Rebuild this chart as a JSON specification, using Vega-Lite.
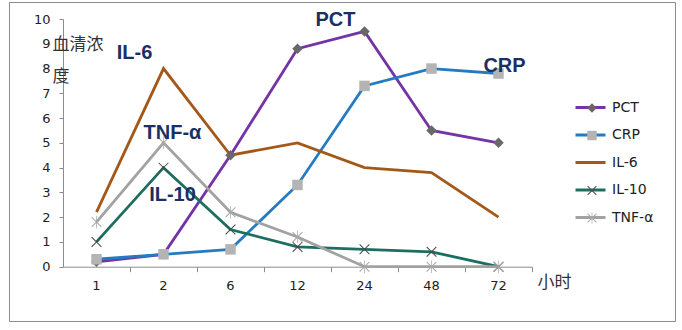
{
  "$schema": "https://vega.github.io/schema/vega-lite/v6.json",
  "width": 666,
  "height": 319,
  "autosize": {"type": "none"},
  "padding": {"left": 9, "top": 2, "right": 7, "bottom": 9},
  "background": "white",
  "config": {"view": {"stroke": "#8c8c8c", "strokeWidth": 1}, "font": "DejaVu Sans", "axis": {"labelOverlap": false}},
  "datasets": {
    "series": [
      {"hour": "1", "series": "PCT", "value": 0.2},
      {"hour": "2", "series": "PCT", "value": 0.5},
      {"hour": "6", "series": "PCT", "value": 4.5},
      {"hour": "12", "series": "PCT", "value": 8.8},
      {"hour": "24", "series": "PCT", "value": 9.5},
      {"hour": "48", "series": "PCT", "value": 5.5},
      {"hour": "72", "series": "PCT", "value": 5.0},
      {"hour": "1", "series": "CRP", "value": 0.3},
      {"hour": "2", "series": "CRP", "value": 0.5},
      {"hour": "6", "series": "CRP", "value": 0.7},
      {"hour": "12", "series": "CRP", "value": 3.3},
      {"hour": "24", "series": "CRP", "value": 7.3},
      {"hour": "48", "series": "CRP", "value": 8.0},
      {"hour": "72", "series": "CRP", "value": 7.8},
      {"hour": "1", "series": "IL-6", "value": 2.2},
      {"hour": "2", "series": "IL-6", "value": 8.0},
      {"hour": "6", "series": "IL-6", "value": 4.5},
      {"hour": "12", "series": "IL-6", "value": 5.0},
      {"hour": "24", "series": "IL-6", "value": 4.0},
      {"hour": "48", "series": "IL-6", "value": 3.8},
      {"hour": "72", "series": "IL-6", "value": 2.0},
      {"hour": "1", "series": "IL-10", "value": 1.0},
      {"hour": "2", "series": "IL-10", "value": 4.0},
      {"hour": "6", "series": "IL-10", "value": 1.5},
      {"hour": "12", "series": "IL-10", "value": 0.8},
      {"hour": "24", "series": "IL-10", "value": 0.7},
      {"hour": "48", "series": "IL-10", "value": 0.6},
      {"hour": "72", "series": "IL-10", "value": 0.0},
      {"hour": "1", "series": "TNF-α", "value": 1.8},
      {"hour": "2", "series": "TNF-α", "value": 5.0},
      {"hour": "6", "series": "TNF-α", "value": 2.2},
      {"hour": "12", "series": "TNF-α", "value": 1.2},
      {"hour": "24", "series": "TNF-α", "value": 0.0},
      {"hour": "48", "series": "TNF-α", "value": 0.0},
      {"hour": "72", "series": "TNF-α", "value": 0.0}
    ],
    "notes": [
      {"hour": "12", "label": "PCT", "value": 9.96},
      {"hour": "1", "label": "IL-6", "value": 8.63},
      {"hour": "2", "label": "TNF-α", "value": 5.4},
      {"hour": "2", "label": "IL-10", "value": 2.89},
      {"hour": "72", "label": "CRP", "value": 8.1}
    ]
  },
  "resolve": {"axis": {"x": "independent"}},
  "layer": [
    {
      "data": {"name": "series"},
      "mark": {"type": "line", "strokeWidth": 2.8},
      "encoding": {
        "x": {
          "field": "hour", "type": "ordinal",
          "scale": {"type": "band", "domain": ["1", "2", "6", "12", "24", "48", "72"], "range": [54, 523], "paddingInner": 0, "paddingOuter": 0},
          "axis": {"orient": "bottom", "offset": -54.3, "title": "小时", "titleAngle": 0, "titleAlign": "left", "titleBaseline": "middle", "titleX": 528, "titleY": 15.3, "titleFont": "Noto Sans CJK SC", "titleFontSize": 17, "titleFontWeight": "normal", "titleColor": "#333333", "labelAngle": 0, "labelFont": "DejaVu Sans", "labelFontSize": 13, "labelColor": "#222222", "labelPadding": 13, "ticks": false, "tickSize": 0, "domain": true, "domainColor": "#8c8c8c", "domainWidth": 1, "grid": false}
        },
        "y": {
          "field": "value", "type": "quantitative",
          "scale": {"domain": [0, 10], "range": [264.7, 17], "nice": false, "zero": true},
          "axis": {"offset": -54, "title": ["血清浓", "度"], "titleAngle": 0, "titleAlign": "left", "titleBaseline": "top", "titleX": -11, "titleY": 34, "titleLineHeight": 32, "titleFont": "Noto Sans CJK SC", "titleFontSize": 17, "titleFontWeight": "normal", "titleColor": "#333333", "labelFont": "DejaVu Sans", "labelFontSize": 13, "labelColor": "#222222", "labelPadding": 9, "labelOverlap": false, "tickCount": 11, "tickSize": 4, "tickColor": "#8c8c8c", "domainColor": "#8c8c8c", "grid": false, "values": [0, 1, 2, 3, 4, 5, 6, 7, 8, 9, 10]}
        },
        "stroke": {
          "field": "series", "type": "nominal",
          "sort": ["PCT", "CRP", "IL-6", "IL-10", "TNF-α"],
          "scale": {"range": ["#7434a6", "#247bc2", "#a35818", "#1c6e60", "#a2a2a2"]},
          "legend": {"orient": "none", "legendX": 565, "legendY": 89, "title": null, "symbolType": "stroke", "symbolSize": 900, "symbolStrokeWidth": 3, "labelFont": "DejaVu Sans", "labelFontSize": 14, "labelColor": "#222222", "labelOffset": 5, "rowPadding": 3.5, "padding": 0}
        }
      }
    },
    {
      "data": {"name": "series"},
      "mark": {"type": "point", "filled": true, "size": 110, "opacity": 1, "strokeWidth": 0},
      "encoding": {
        "x": {
          "field": "hour", "type": "ordinal",
          "axis": {"orient": "bottom", "offset": -54.3, "bandPosition": 1, "labels": false, "title": null, "ticks": true, "tickSize": 5, "tickColor": "#8c8c8c", "domain": false, "grid": false}
        },
        "y": {
          "field": "value", "type": "quantitative",
          "axis": {"offset": -54, "title": ["血清浓", "度"], "titleAngle": 0, "titleAlign": "left", "titleBaseline": "top", "titleX": -11, "titleY": 34, "titleLineHeight": 32, "titleFont": "Noto Sans CJK SC", "titleFontSize": 17, "titleFontWeight": "normal", "titleColor": "#333333", "labelFont": "DejaVu Sans", "labelFontSize": 13, "labelColor": "#222222", "labelPadding": 9, "labelOverlap": false, "tickCount": 11, "tickSize": 4, "tickColor": "#8c8c8c", "domainColor": "#8c8c8c", "grid": false, "values": [0, 1, 2, 3, 4, 5, 6, 7, 8, 9, 10]}
        },
        "shape": {
          "field": "series", "type": "nominal",
          "scale": {"domain": ["PCT", "CRP", "IL-6", "IL-10", "TNF-α"], "range": ["diamond", "square", "circle", "M-1,-0.86L-0.86,-1L1,0.86L0.86,1ZM1,-0.86L-0.86,1L-1,0.86L0.86,-1Z", "M-1,-0.86L-0.86,-1L1,0.86L0.86,1ZM1,-0.86L-0.86,1L-1,0.86L0.86,-1ZM-0.07,-1.2L0.07,-1.2L0.07,1.2L-0.07,1.2Z"]},
          "legend": {"orient": "none", "legendX": 576, "legendY": 99, "title": null, "symbolSize": 90, "symbolStrokeWidth": 0, "labelFont": "DejaVu Sans", "labelFontSize": 14, "labelOpacity": 0, "labelExpr": "' '", "labelOffset": 5, "rowPadding": 13.5, "padding": 0}
        },
        "fill": {
          "field": "series", "type": "nominal",
          "scale": {"domain": ["PCT", "CRP", "IL-6", "IL-10", "TNF-α"], "range": ["#686868", "#b4b4b4", "transparent", "#4a4a4a", "#a8a8a8"]},
          "legend": {"orient": "none", "legendX": 576, "legendY": 99, "title": null, "symbolSize": 90, "symbolStrokeWidth": 0, "labelFont": "DejaVu Sans", "labelFontSize": 14, "labelOpacity": 0, "labelExpr": "' '", "labelOffset": 5, "rowPadding": 13.5, "padding": 0}
        }
      }
    },
    {
      "data": {"name": "notes"},
      "transform": [{"filter": "datum.label == 'PCT' || datum.label == 'IL-6'"}],
      "mark": {"type": "text", "dx": 38, "font": "Liberation Sans", "fontWeight": "bold", "fontSize": 20, "color": "#1b2f63", "baseline": "middle", "align": "center"},
      "encoding": {
        "x": {"field": "hour", "type": "ordinal", "axis": null},
        "y": {"field": "value", "type": "quantitative"},
        "text": {"field": "label"}
      }
    },
    {
      "data": {"name": "notes"},
      "transform": [{"filter": "datum.label == 'TNF-α' || datum.label == 'IL-10'"}],
      "mark": {"type": "text", "dx": 9, "font": "Liberation Sans", "fontWeight": "bold", "fontSize": 20, "color": "#1b2f63", "baseline": "middle", "align": "center"},
      "encoding": {
        "x": {"field": "hour", "type": "ordinal", "axis": null},
        "y": {"field": "value", "type": "quantitative"},
        "text": {"field": "label"}
      }
    },
    {
      "data": {"name": "notes"},
      "transform": [{"filter": "datum.label == 'CRP'"}],
      "mark": {"type": "text", "dx": 6, "font": "Liberation Sans", "fontWeight": "bold", "fontSize": 20, "color": "#1b2f63", "baseline": "middle", "align": "center"},
      "encoding": {
        "x": {"field": "hour", "type": "ordinal", "axis": null},
        "y": {"field": "value", "type": "quantitative"},
        "text": {"field": "label"}
      }
    }
  ]
}
